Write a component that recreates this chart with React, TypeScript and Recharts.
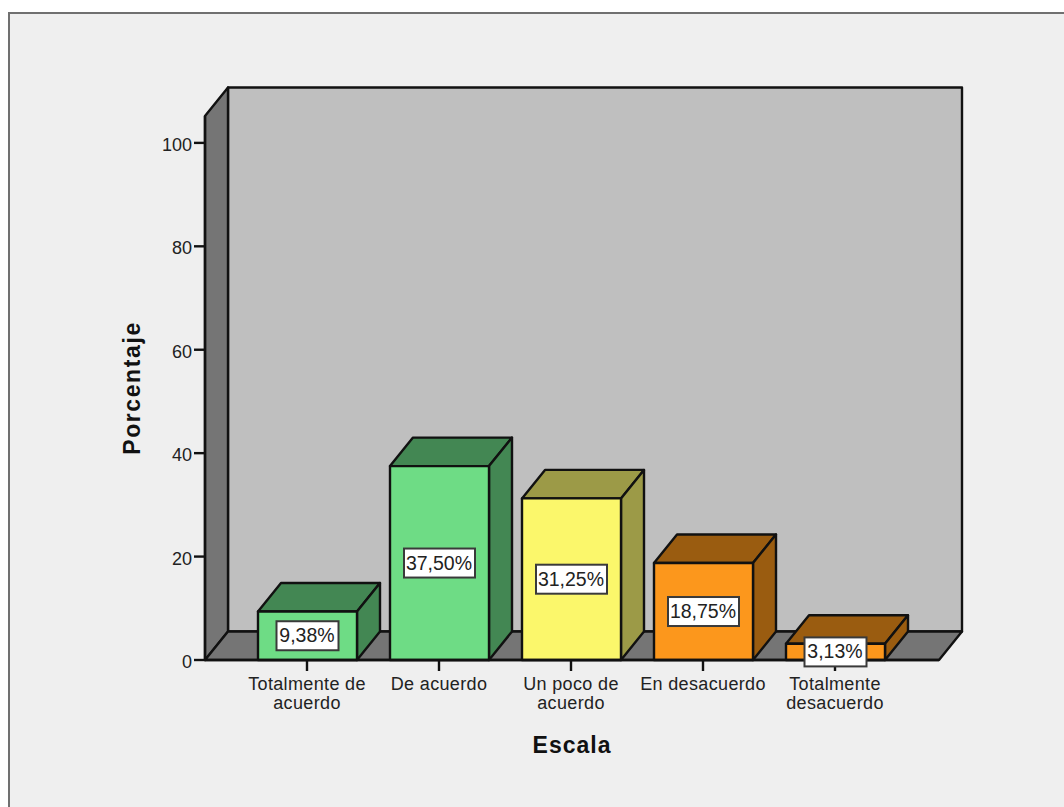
import React from 'react';
import { BarChart, Bar, XAxis, YAxis, LabelList, usePlotArea } from 'recharts';

const CATEGORIAS = [
  'Totalmente de acuerdo',
  'De acuerdo',
  'Un poco de acuerdo',
  'En desacuerdo',
  'Totalmente desacuerdo',
];
const PORCENTAJES = [9.38, 37.5, 31.25, 18.75, 3.13];
const TICKS_Y = [0, 20, 40, 60, 80, 100];
const LINEAS_TICK: Record<string, string[]> = {
  'Totalmente de acuerdo': ['Totalmente de', 'acuerdo'],
  'De acuerdo': ['De acuerdo'],
  'Un poco de acuerdo': ['Un poco de', 'acuerdo'],
  'En desacuerdo': ['En desacuerdo'],
  'Totalmente desacuerdo': ['Totalmente', 'desacuerdo'],
};
const COLOR_FRENTE = ['#6EDC85', '#6EDC85', '#FBF76B', '#FC971C', '#FC971C'];
const COLOR_LADO = ['#438753', '#438753', '#9C9A47', '#9A5C10', '#9A5C10'];

const data = CATEGORIAS.map((categoria, i) => ({ categoria, valor: PORCENTAJES[i] }));

const FONT = '"Liberation Sans", Arial, sans-serif';
const INK = '#111';
const TRAZO = 2.4;
// desplazamiento de la perspectiva 3D
const DX = 23;
const DY = 28.5;

// paredes y suelo del grafico, colocados a partir del area de dibujo
const Paredes = () => {
  const plot = usePlotArea();
  if (!plot) return null;
  const { x, y, width, height } = plot;
  const bottom = y + height;
  return (
    <g stroke={INK} strokeWidth={TRAZO} strokeLinejoin="round">
      <rect x={x + DX} y={y - DY} width={width} height={height} fill="#BFBFBF" />
      <polygon
        points={`${x},${y} ${x + DX},${y - DY} ${x + DX},${bottom - DY} ${x},${bottom}`}
        fill="#757575"
      />
      <polygon
        points={`${x},${bottom} ${x + DX},${bottom - DY} ${x + width + DX},${bottom - DY} ${x + width},${bottom}`}
        fill="#757575"
      />
    </g>
  );
};

const Barra3D = (props: any) => {
  const { x, y, width, height, index } = props;
  const right = x + width;
  const bottom = y + height;
  return (
    <g stroke={INK} strokeWidth={TRAZO} strokeLinejoin="round">
      <polygon
        points={`${x},${y} ${x + DX},${y - DY} ${right + DX},${y - DY} ${right},${y}`}
        fill={COLOR_LADO[index]}
      />
      <polygon
        points={`${right},${y} ${right + DX},${y - DY} ${right + DX},${bottom - DY} ${right},${bottom}`}
        fill={COLOR_LADO[index]}
      />
      <rect x={x} y={y} width={width} height={height} fill={COLOR_FRENTE[index]} />
    </g>
  );
};

const EtiquetaValor = (props: any) => {
  const { x, y, width, height, value } = props;
  const texto = `${Number(value).toFixed(2).replace('.', ',')}%`;
  const w = texto.length === 5 ? 62 : 71;
  const h = 29;
  const cx = x + width / 2;
  const cy = y + height / 2;
  return (
    <g>
      <rect x={cx - w / 2} y={cy - h / 2} width={w} height={h} fill="#fff" stroke="#3a3a3a" strokeWidth={2} />
      <text x={cx - 0.5} y={cy + 6.5} textAnchor="middle" fontFamily={FONT} fontSize={19.5} fill="#222">
        {texto}
      </text>
    </g>
  );
};

const TickCategoria = ({ x, y, payload }: any) => (
  <text x={x} y={y} textAnchor="middle" fontFamily={FONT} fontSize={18} letterSpacing={0.35} fill="#222">
    {LINEAS_TICK[payload.value].map((linea, i) => (
      <tspan key={linea} x={x} dy={i === 0 ? 17 : 19}>
        {linea}
      </tspan>
    ))}
  </text>
);

const TickValor = ({ x, y, payload }: any) => (
  <text x={x} y={y + 8} textAnchor="end" fontFamily={FONT} fontSize={18} fill="#222">
    {payload.value}
  </text>
);

export default function App() {
  return (
    <div style={{ position: 'absolute', left: 0, top: 0, width: 1064, height: 807, overflow: 'hidden', background: '#fff' }}>
      <div
        style={{
          position: 'absolute',
          left: 8,
          top: 12,
          width: 1100,
          height: 850,
          background: '#EFEFEF',
          borderLeft: '2px solid #707070',
          borderTop: '2px solid #707070',
        }}
      />
      <div style={{ position: 'absolute', left: 0, top: 0 }}>
        <BarChart
          width={1064}
          height={807}
          data={data}
          barSize={99}
          margin={{ top: 116, right: 125, bottom: 87, left: 145 }}
        >
          <Paredes />
          <XAxis
            dataKey="categoria"
            height={60}
            interval={0}
            padding={{ left: 36, right: 38 }}
            tick={<TickCategoria />}
            tickSize={11}
            tickLine={{ stroke: INK, strokeWidth: TRAZO }}
            axisLine={{ stroke: INK, strokeWidth: TRAZO }}
            label={{
              value: 'Escala',
              position: 'insideBottom',
              offset: -33,
              style: { fontFamily: FONT, fontSize: 23, fontWeight: 700, letterSpacing: 1, fill: '#111' },
            }}
          />
          <YAxis
            width={60}
            domain={[0, 105.2]}
            ticks={TICKS_Y}
            tickSize={11}
            tickMargin={2}
            tick={<TickValor />}
            tickLine={{ stroke: INK, strokeWidth: TRAZO }}
            axisLine={{ stroke: INK, strokeWidth: TRAZO }}
            label={{
              value: 'Porcentaje',
              angle: -90,
              position: 'insideLeft',
              offset: -13,
              style: { fontFamily: FONT, fontSize: 23, fontWeight: 700, letterSpacing: 1.6, fill: '#111', textAnchor: 'middle' },
            }}
          />
          <Bar dataKey="valor" shape={<Barra3D />} isAnimationActive={false}>
            <LabelList dataKey="valor" content={<EtiquetaValor />} />
          </Bar>
        </BarChart>
      </div>
    </div>
  );
}
